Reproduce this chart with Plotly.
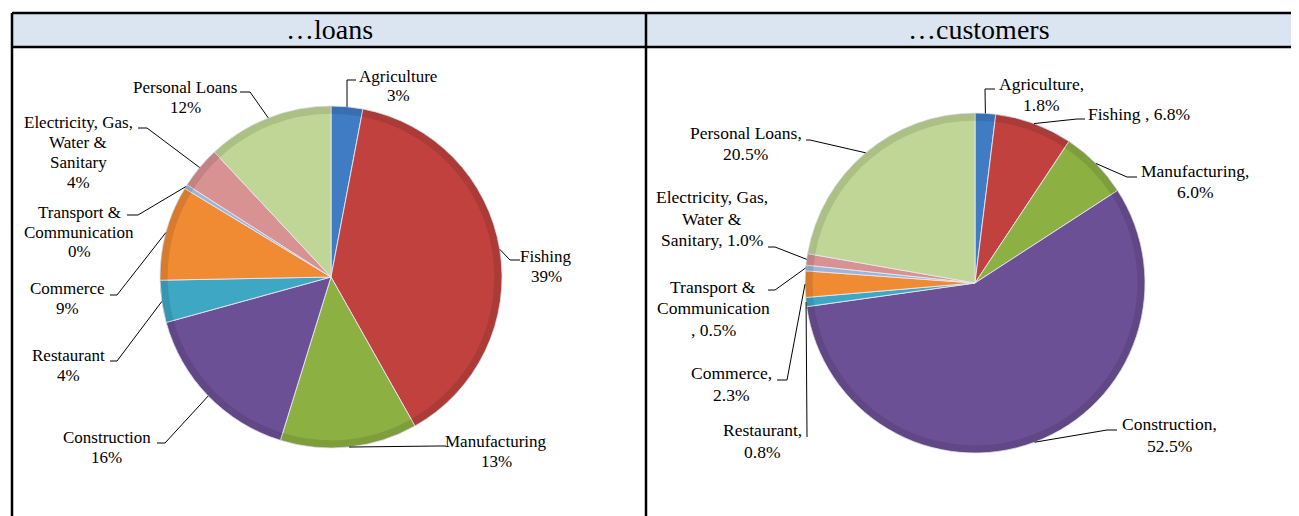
import math
import plotly.graph_objects as go

# ---------------- data ----------------
sectors = ["Agriculture", "Fishing", "Manufacturing", "Construction", "Restaurant",
           "Commerce", "Transport & Communication", "Electricity, Gas, Water & Sanitary",
           "Personal Loans"]
loans_pct = [3, 39, 13, 16, 4, 9, 0.4, 4, 12]
customers_pct = [1.8, 6.8, 6.0, 52.5, 0.8, 2.3, 0.5, 1.0, 20.5]

loans_label_text = ["Agriculture", "Fishing", "Manufacturing", "Construction", "Restaurant",
                    "Commerce", "Transport &<br>Communication",
                    "Electricity, Gas,<br>Water &<br>Sanitary", "Personal Loans"]
customers_label_text = ["Agriculture,", "Fishing", "Manufacturing,", "Construction,",
                        "Restaurant,", "Commerce,", "Transport &<br>Communication<br>",
                        "Electricity, Gas,<br>Water &<br>Sanitary,", "Personal Loans,"]
customers_label_sep = ["<br>", " , ", "<br>", "<br>", "<br>", "<br>", ", ", " ", "<br>"]

panel_titles = ["…loans", "…customers"]

# ---------------- style / layout ----------------
W, H = 1299, 516
OFF = 8  # page body margin
colors = ["#3F7CC4", "#C0413E", "#8DB043", "#6C5096", "#3DA7C4",
          "#F08B33", "#9CB6D9", "#D89291", "#C0D696"]
FONT = "Liberation Serif"

# pie geometry in screen pixels (center x, center y, radius)
pie_geo = [(331, 277, 171), (975, 283, 170)]

# label centres (px) and leader line elbow / tick end (px)
loans_label_pos = [(398, 86), (546, 266.5), (496, 451), (107, 447), (68, 365),
                   (67, 298), (79, 232), (78, 152.5), (185, 97)]
loans_elbow = [(347, 80), (510, 260), (438, 446), (165, 443), (117, 361),
               (117, 295), (138, 215), (147, 128), (250, 92)]
loans_tick = [(356, 80), (520, 260), (446, 446), (157, 443), (110, 361),
              (110, 295), (127, 215), (138, 128), (240, 92)]

cust_label_pos = [(1041, 94.5), (1139, 114), (1195, 181.5), (1169, 435), (762, 441),
                  (731, 384), (713, 308), (712, 218.5), (745.5, 143.5)]
cust_elbow = [(985, 89), (1077, 119), (1127, 177), (1107, 430), (807, 437),
              (787, 380), (775, 290), (775, 247), (810, 140)]
cust_tick = [(995, 89), (1085, 119), (1137, 177), (1117, 430), (807, 437),
             (777, 380), (768, 290), (768, 247), (806, 140)]

label_font_size = [17, 17.5]
label_line_gap = [20, 21.5]


def px(x):
    return (x - OFF) / W


def py(y):
    return 1 - (y - OFF) / H


fig = go.Figure()

for (cx, cy, r), vals in zip(pie_geo, [loans_pct, customers_pct]):
    dom = dict(x=[px(cx - r), px(cx + r)], y=[py(cy + r), py(cy - r)])
    fig.add_trace(go.Pie(
        labels=sectors, values=vals, sort=False, direction="clockwise", rotation=0,
        textinfo="none", hoverinfo="label+percent", showlegend=False,
        marker=dict(colors=colors, line=dict(color="rgba(230,230,240,0.9)", width=1)),
        domain=dom,
    ))
    # slightly darker rim to suggest the bevel
    fig.add_trace(go.Pie(
        labels=sectors, values=vals, sort=False, direction="clockwise", rotation=0,
        textinfo="none", hoverinfo="skip", showlegend=False, hole=0.955,
        marker=dict(colors=["rgba(0,0,0,0.10)"] * len(vals), line=dict(width=0)),
        domain=dom,
    ))

shapes = []
annotations = []


def leader_lines(geo, vals, elbows, ticks):
    cx, cy, r = geo
    total = sum(vals)
    cum = 0
    for v, e, t in zip(vals, elbows, ticks):
        ang = 2 * math.pi * (cum + v / 2) / total
        cum += v
        ax = cx + r * math.sin(ang)
        ay = cy - r * math.cos(ang)
        path = f"M {px(ax)} {py(ay)} L {px(e[0])} {py(e[1])} L {px(t[0])} {py(t[1])}"
        shapes.append(dict(type="path", path=path, xref="paper", yref="paper",
                           line=dict(color="black", width=1)))


leader_lines(pie_geo[0], loans_pct, loans_elbow, loans_tick)
leader_lines(pie_geo[1], customers_pct, cust_elbow, cust_tick)


def add_label(text, pos, size, gap):
    lines = text.split("<br>")
    n = len(lines)
    for i, ln in enumerate(lines):
        yy = pos[1] + (i - (n - 1) / 2) * gap
        annotations.append(dict(x=px(pos[0]), y=py(yy), xref="paper", yref="paper",
                                text=ln, showarrow=False, xanchor="center",
                                yanchor="middle",
                                font=dict(family=FONT, size=size, color="black")))


for name, v, pos in zip(loans_label_text, loans_pct, loans_label_pos):
    add_label(f"{name}<br>{round(v)}%", pos, label_font_size[0], label_line_gap[0])

for name, sep, v, pos in zip(customers_label_text, customers_label_sep, customers_pct,
                             cust_label_pos):
    add_label(f"{name}{sep}{v:.1f}%", pos, label_font_size[1], label_line_gap[1])

# table frame
shapes.insert(0, dict(type="rect", xref="paper", yref="paper", x0=px(12), x1=1.01,
                      y0=py(47), y1=py(13), fillcolor="#DBE5F1", line=dict(width=0),
                      layer="below"))
for (x0, y0, x1, y1) in [(12, 13, W + 20, 13), (12, 47, W + 20, 47),
                         (12, 13, 12, H + 20), (646, 13, 646, H + 20)]:
    shapes.append(dict(type="line", xref="paper", yref="paper",
                       x0=px(x0), y0=py(y0), x1=px(x1), y1=py(y1),
                       line=dict(color="black", width=2.5)))

for title, xc in zip(panel_titles, [329, 979]):
    annotations.append(dict(x=px(xc), y=py(30), xref="paper", yref="paper", text=title,
                            showarrow=False, xanchor="center", yanchor="middle",
                            font=dict(family=FONT, size=28, color="black")))

fig.update_layout(
    width=W, height=H, margin=dict(l=0, r=0, t=0, b=0),
    paper_bgcolor="white", plot_bgcolor="white",
    shapes=shapes, annotations=annotations,
)

fig.write_html("out.html")
